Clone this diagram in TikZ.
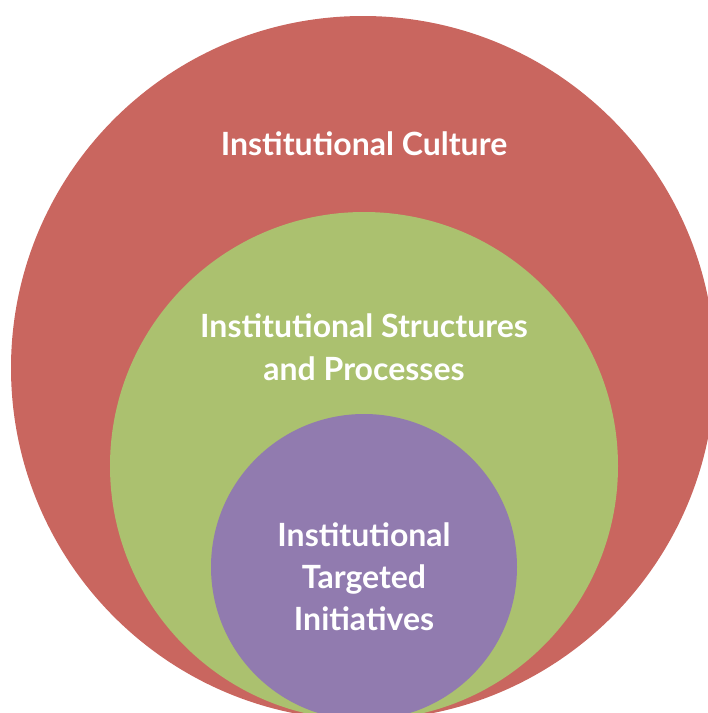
\documentclass[tikz,border=0pt]{standalone}
\usepackage{fontspec}
\setmainfont{Lato}[UprightFont=* Bold]
\definecolor{cred}{HTML}{C9665F}
\definecolor{cgreen}{HTML}{ABC16F}
\definecolor{cpurple}{HTML}{917BAF}
\begin{document}
\begin{tikzpicture}[x=1pt,y=-1pt,
  lbl/.style={text=white,font=\fontsize{32}{42}\selectfont,anchor=base,inner sep=0pt}]
\useasboundingbox (0,0) rectangle (708,713);
\begin{scope}
\clip (0,0) rectangle (708,713);
\fill[cred] (363,368) circle[radius=352];
\fill[cgreen] (364,466) circle[radius=254];
\fill[cpurple] (364,567) circle[radius=153];
\end{scope}
\node[lbl] (c1) at (364,155) {Institutional Culture};
\node[lbl] (s1) at (364,337) {Institutional Structures};
\node[lbl] (s2) at (364,380) {and Processes};
\node[lbl] (t1) at (364,546) {Institutional};
\node[lbl] (t2) at (364,588) {Targeted};
\node[lbl] (t3) at (364,630) {Initiatives};
\end{tikzpicture}
\end{document}
